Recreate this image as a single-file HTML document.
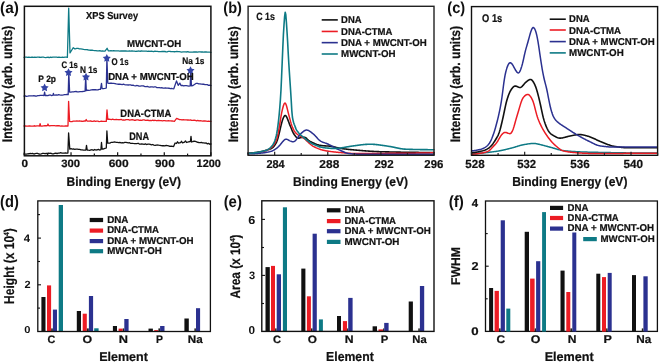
<!DOCTYPE html>
<html><head><meta charset="utf-8"><style>
html,body{margin:0;padding:0;background:#fff;}
svg{display:block;filter:blur(0.25px);}
text{text-rendering:geometricPrecision;}
</style></head><body>
<svg width="660" height="364" viewBox="0 0 660 364">
<rect width="660" height="364" fill="#fff"/>
<text x="0.03" y="12.98" font-size="15.77" font-family="Liberation Sans" font-weight="bold" fill="#111" textLength="18.84" lengthAdjust="spacingAndGlyphs">(a)</text>
<polyline points="24.00,57.30 25.21,57.21 26.41,57.13 27.62,57.38 28.82,57.09 30.03,57.32 31.23,57.23 32.44,57.08 33.64,57.30 34.85,57.07 36.06,57.27 37.26,57.08 38.47,57.10 39.67,57.26 40.88,57.46 42.08,57.11 43.29,57.16 44.49,57.36 45.70,57.52 46.91,57.34 48.11,57.25 49.32,57.54 50.52,57.07 51.73,57.48 52.93,57.19 54.14,57.12 55.34,57.11 56.55,57.20 57.76,57.46 58.96,57.14 60.17,57.34 61.37,57.37 62.58,57.24 63.78,57.32 64.99,57.08 66.19,57.08 67.40,57.30 68.70,8.10 70.00,52.90 71.50,50.50 73.30,47.70 75.00,49.00 76.70,48.30 78.08,48.37 79.47,48.82 80.85,48.91 82.23,49.07 83.62,49.43 85.00,49.60 86.38,49.71 87.77,49.77 89.15,50.15 90.53,50.23 91.92,50.14 93.30,50.40 94.60,50.53 95.90,50.59 97.20,50.85 98.50,50.87 99.80,50.74 101.10,51.17 102.40,50.83 103.70,51.07 105.00,51.20 107.10,48.30 108.30,50.80 109.64,50.93 110.98,50.63 112.32,50.79 113.66,50.57 115.00,50.80 116.21,50.90 117.41,50.97 118.62,50.89 119.83,51.06 121.03,50.79 122.24,51.00 123.45,50.97 124.66,50.98 125.86,50.93 127.07,51.14 128.28,51.21 129.48,50.99 130.69,51.11 131.90,50.82 133.10,51.16 134.31,51.15 135.52,51.34 136.72,51.27 137.93,51.02 139.14,51.09 140.34,51.25 141.55,50.94 142.76,51.18 143.97,51.05 145.17,51.04 146.38,51.03 147.59,51.40 148.79,51.10 150.00,51.30 151.22,51.19 152.44,51.29 153.66,51.55 154.88,51.17 156.10,51.37 157.32,51.44 158.54,51.63 159.76,51.62 160.98,51.66 162.20,51.39 163.42,51.48 164.64,51.47 165.86,51.75 167.08,51.81 168.30,51.43 169.52,51.46 170.74,51.51 171.96,51.53 173.18,51.67 174.40,51.74 175.62,51.60 176.84,51.49 178.06,51.72 179.28,51.71 180.50,51.83 181.72,52.05 182.94,51.94 184.16,51.87 185.38,51.94 186.60,51.99 187.82,51.70 189.04,52.14 190.26,52.10 191.48,52.17 192.70,52.15 193.92,51.97 195.14,51.99 196.36,51.86 197.58,52.15 198.80,51.88 200.02,51.90 201.24,51.99 202.46,51.99 203.68,52.10 204.90,51.98 206.12,51.97 207.34,52.07 208.56,52.06 209.78,52.21 211.00,52.30" fill="none" stroke="#0e7a85" stroke-width="1.3" stroke-linejoin="round" stroke-linecap="round"/>
<polyline points="24.00,96.20 25.25,95.87 26.50,96.34 27.75,96.14 29.00,95.81 30.25,95.83 31.50,95.85 32.75,95.81 34.00,95.62 35.25,96.02 36.50,96.06 37.75,95.70 39.00,95.67 40.25,95.38 41.50,95.35 42.75,95.45 44.00,95.50 44.60,92.20 45.20,95.50 46.50,95.31 47.80,95.60 49.10,95.15 50.40,95.01 51.70,95.52 53.00,95.20 53.40,93.30 53.80,95.20 55.00,95.17 56.20,94.89 57.40,95.08 58.60,94.72 59.80,94.97 61.00,95.19 62.20,95.07 63.40,94.92 64.60,94.61 65.80,94.62 67.00,94.45 68.20,94.60 68.80,72.00 69.60,92.00 70.89,92.10 72.18,91.89 73.47,91.97 74.77,91.63 76.06,91.50 77.35,91.79 78.64,91.82 79.93,91.68 81.22,91.58 82.52,91.52 83.81,91.41 85.10,91.20 85.70,76.80 86.30,90.50 87.59,90.24 88.88,90.31 90.17,90.11 91.46,89.82 92.75,89.72 94.05,89.77 95.34,89.66 96.63,89.82 97.92,89.87 99.21,89.47 100.50,89.40 101.50,83.30 102.10,88.50 103.50,88.60 104.90,88.46 106.30,88.00 106.90,58.40 107.80,83.10 109.00,83.48 110.20,83.23 111.40,83.24 112.60,83.35 113.80,83.44 115.00,83.54 116.20,83.90 117.40,84.17 118.60,84.24 119.80,84.12 121.00,84.33 122.20,84.52 123.40,84.20 124.60,84.65 125.80,84.90 127.00,84.93 128.20,85.01 129.40,84.95 130.60,84.88 131.80,85.35 133.00,85.18 134.20,85.56 135.40,85.77 136.60,85.52 137.80,85.63 139.00,86.06 140.20,86.03 141.40,85.80 142.60,85.88 143.80,86.00 145.00,86.56 146.20,86.60 147.40,86.31 148.60,86.82 149.80,87.02 151.00,86.93 152.20,86.84 153.40,87.07 154.60,86.92 155.80,86.95 157.00,87.63 158.20,87.54 159.40,87.57 160.60,87.92 161.80,87.72 163.00,88.09 164.20,88.17 165.40,87.90 166.60,88.03 167.80,88.16 169.00,88.23 170.20,88.54 171.40,88.45 172.60,88.65 173.80,88.80 176.50,80.90 178.20,85.30 179.80,83.10 181.00,85.50 182.31,85.34 183.63,85.86 184.94,85.58 186.26,85.70 187.57,85.84 188.89,86.09 190.20,85.90 190.80,70.00 191.40,85.80 193.00,85.50 196.30,83.30 197.53,83.44 198.75,83.92 199.98,83.85 201.20,84.05 202.43,84.23 203.65,84.11 204.88,84.55 206.10,84.58 207.32,84.65 208.55,85.31 209.78,85.12 211.00,85.50" fill="none" stroke="#2b3190" stroke-width="1.3" stroke-linejoin="round" stroke-linecap="round"/>
<polyline points="24.00,126.00 25.29,125.98 26.58,126.14 27.88,126.03 29.17,125.90 30.46,126.01 31.75,126.03 33.04,126.17 34.33,125.76 35.62,126.04 36.92,125.85 38.21,125.87 39.50,126.00 40.10,123.60 40.70,126.00 42.06,126.06 43.42,125.80 44.78,125.74 46.14,125.76 47.50,125.50 48.00,124.00 48.50,125.50 49.72,125.78 50.94,125.53 52.16,125.66 53.38,125.63 54.59,125.66 55.81,125.80 57.03,125.69 58.25,125.77 59.47,125.77 60.69,126.08 61.91,125.96 63.12,126.10 64.34,126.17 65.56,125.79 66.78,126.00 68.00,126.00 68.60,101.30 69.60,121.40 70.82,121.64 72.05,121.54 73.27,121.09 74.49,121.05 75.72,121.21 76.94,120.96 78.16,121.03 79.38,120.90 80.61,121.22 81.83,121.26 83.05,121.30 84.28,120.82 85.50,121.00 86.20,119.50 87.00,121.00 88.21,121.15 89.41,121.15 90.62,120.86 91.83,121.33 93.03,121.41 94.24,120.98 95.44,121.45 96.65,121.14 97.86,121.22 99.06,121.54 100.27,121.47 101.47,121.10 102.68,121.28 103.89,121.36 105.09,121.28 106.30,121.40 107.00,109.90 107.80,119.40 109.01,119.25 110.23,119.35 111.44,119.62 112.66,119.22 113.87,119.57 115.08,119.53 116.30,119.31 117.51,119.52 118.73,119.73 119.94,119.69 121.15,119.45 122.37,120.03 123.58,119.94 124.80,120.07 126.01,119.58 127.22,119.71 128.44,119.60 129.65,120.07 130.87,119.79 132.08,119.74 133.29,119.94 134.51,120.26 135.72,120.23 136.93,119.92 138.15,119.89 139.36,120.38 140.58,120.20 141.79,120.30 143.00,119.96 144.22,119.97 145.43,120.38 146.65,120.25 147.86,120.06 149.07,120.61 150.29,120.46 151.50,120.59 152.72,120.18 153.93,120.67 155.14,120.23 156.36,120.73 157.57,120.52 158.79,120.48 160.00,120.60 161.20,120.69 162.40,120.97 163.60,120.64 164.80,120.61 166.00,120.91 167.20,120.79 168.40,120.77 169.60,120.86 170.80,120.86 172.00,121.00 173.20,121.13 174.40,121.30 176.60,118.30 179.60,119.70 180.81,119.64 182.02,119.98 183.22,119.76 184.43,119.95 185.64,119.81 186.85,119.98 188.05,119.84 189.26,120.04 190.47,119.96 191.68,120.46 192.88,120.41 194.09,120.25 195.30,120.48 196.51,120.82 197.72,120.39 198.92,120.88 200.13,120.71 201.34,120.80 202.55,121.07 203.75,120.87 204.96,121.00 206.17,121.17 207.38,121.40 208.58,121.08 209.79,121.44 211.00,121.30" fill="none" stroke="#ec1c24" stroke-width="1.3" stroke-linejoin="round" stroke-linecap="round"/>
<polyline points="24.00,154.00 25.24,154.16 26.47,154.08 27.71,153.84 28.94,153.77 30.18,153.48 31.41,153.53 32.65,153.45 33.88,154.03 35.12,153.57 36.35,153.46 37.59,153.37 38.82,154.02 40.06,154.03 41.29,153.82 42.53,153.45 43.76,153.39 45.00,153.60 46.21,153.38 47.41,153.50 48.62,153.20 49.82,153.42 51.03,153.23 52.23,153.83 53.44,153.80 54.64,153.39 55.85,153.09 57.05,153.70 58.26,153.08 59.46,153.09 60.67,152.74 61.87,153.05 63.08,153.10 64.28,153.10 65.49,152.79 66.69,153.04 67.90,153.00 68.60,133.00 69.80,149.10 71.04,148.72 72.28,149.03 73.52,148.94 74.75,149.29 75.99,149.03 77.23,149.09 78.47,149.41 79.71,149.41 80.95,149.80 82.18,149.82 83.42,150.09 84.66,150.07 85.90,150.00 86.50,145.30 87.20,150.00 88.45,150.17 89.69,150.29 90.94,149.82 92.18,149.73 93.43,150.30 94.67,149.52 95.92,150.01 97.16,149.91 98.41,149.34 99.65,150.03 100.90,149.70 101.50,142.50 102.10,149.00 103.50,149.02 104.90,148.45 106.30,148.00 106.90,131.00 107.70,143.20 108.92,143.21 110.13,143.08 111.35,142.28 112.57,142.42 113.78,142.20 115.00,142.00 116.22,142.39 117.43,142.45 118.65,142.56 119.86,142.43 121.08,142.80 122.30,142.70 123.51,142.80 124.73,142.47 125.95,142.38 127.16,142.56 128.38,142.86 129.59,142.71 130.81,143.46 132.03,143.30 133.24,143.45 134.46,143.54 135.68,143.68 136.89,143.60 138.11,143.25 139.32,144.05 140.54,144.10 141.76,143.96 142.97,144.08 144.19,144.28 145.41,143.84 146.62,144.53 147.84,144.19 149.05,144.11 150.27,144.38 151.49,144.88 152.70,144.50 153.92,145.07 155.14,145.37 156.35,145.03 157.57,145.02 158.78,145.19 160.00,145.30 161.24,145.57 162.47,145.76 163.71,145.73 164.95,145.86 166.18,145.47 167.42,145.64 168.65,145.84 169.89,146.39 171.13,146.11 172.36,146.45 173.60,146.50 175.10,143.00 176.50,143.50 177.50,141.80 178.50,143.20 180.50,142.60 181.50,141.30 182.50,142.80 184.50,142.20 185.50,140.90 186.50,142.50 188.50,141.90 190.40,141.50 191.00,136.40 191.60,142.00 193.00,141.50 194.20,141.23 195.40,141.44 196.60,141.79 197.80,142.32 199.00,142.51 200.20,142.66 201.40,142.48 202.60,142.85 203.80,142.97 205.00,143.14 206.20,142.99 207.40,143.85 208.60,143.40 209.80,144.26 211.00,144.00" fill="none" stroke="#111111" stroke-width="1.3" stroke-linejoin="round" stroke-linecap="round"/>
<polygon points="44.60,83.45 45.90,85.91 48.64,86.39 46.70,88.38 47.10,91.14 44.60,89.91 42.10,91.14 42.50,88.38 40.56,86.39 43.30,85.91" fill="#3444a6"/>
<polygon points="68.50,68.35 69.80,70.81 72.54,71.29 70.60,73.28 71.00,76.04 68.50,74.81 66.00,76.04 66.40,73.28 64.46,71.29 67.20,70.81" fill="#3444a6"/>
<polygon points="86.00,72.75 87.30,75.21 90.04,75.69 88.10,77.68 88.50,80.44 86.00,79.21 83.50,80.44 83.90,77.68 81.96,75.69 84.70,75.21" fill="#3444a6"/>
<polygon points="106.80,53.95 108.10,56.41 110.84,56.89 108.90,58.88 109.30,61.64 106.80,60.41 104.30,61.64 104.70,58.88 102.76,56.89 105.50,56.41" fill="#3444a6"/>
<polygon points="190.50,66.25 191.80,68.71 194.54,69.19 192.60,71.18 193.00,73.94 190.50,72.71 188.00,73.94 188.40,71.18 186.46,69.19 189.20,68.71" fill="#3444a6"/>
<rect x="24.4" y="6.3" width="186.5" height="149.5" fill="none" stroke="#111" stroke-width="1.5"/>
<line x1="24.4" y1="155.8" x2="24.4" y2="152.3" stroke="#111" stroke-width="1.2"/>
<line x1="47.7125" y1="155.8" x2="47.7125" y2="153.60000000000002" stroke="#111" stroke-width="1.2"/>
<line x1="71.025" y1="155.8" x2="71.025" y2="152.3" stroke="#111" stroke-width="1.2"/>
<line x1="94.3375" y1="155.8" x2="94.3375" y2="153.60000000000002" stroke="#111" stroke-width="1.2"/>
<line x1="117.65" y1="155.8" x2="117.65" y2="152.3" stroke="#111" stroke-width="1.2"/>
<line x1="140.9625" y1="155.8" x2="140.9625" y2="153.60000000000002" stroke="#111" stroke-width="1.2"/>
<line x1="164.275" y1="155.8" x2="164.275" y2="152.3" stroke="#111" stroke-width="1.2"/>
<line x1="187.5875" y1="155.8" x2="187.5875" y2="153.60000000000002" stroke="#111" stroke-width="1.2"/>
<line x1="210.9" y1="155.8" x2="210.9" y2="152.3" stroke="#111" stroke-width="1.2"/>
<text x="21.63" y="167.25" font-size="10.74" font-family="Liberation Sans" font-weight="bold" stroke="#111" stroke-width="0.22" fill="#111" textLength="6.55" lengthAdjust="spacingAndGlyphs">0</text>
<text x="61.34" y="167.25" font-size="10.74" font-family="Liberation Sans" font-weight="bold" stroke="#111" stroke-width="0.22" fill="#111" textLength="18.82" lengthAdjust="spacingAndGlyphs">300</text>
<text x="108.66" y="167.25" font-size="10.74" font-family="Liberation Sans" font-weight="bold" stroke="#111" stroke-width="0.22" fill="#111" textLength="20.03" lengthAdjust="spacingAndGlyphs">600</text>
<text x="155.09" y="167.25" font-size="10.74" font-family="Liberation Sans" font-weight="bold" stroke="#111" stroke-width="0.22" fill="#111" textLength="19.59" lengthAdjust="spacingAndGlyphs">900</text>
<text x="196.61" y="167.25" font-size="10.74" font-family="Liberation Sans" font-weight="bold" stroke="#111" stroke-width="0.22" fill="#111" textLength="24.34" lengthAdjust="spacingAndGlyphs">1200</text>
<text x="66.50" y="186.15" font-size="12.65" font-family="Liberation Sans" font-weight="bold" stroke="#111" stroke-width="0.22" fill="#111" textLength="114.60" lengthAdjust="spacingAndGlyphs">Binding Energy (eV)</text>
<text x="-0.81" y="0" font-size="13.95" font-family="Liberation Sans" font-weight="bold" stroke="#111" stroke-width="0.22" fill="#111" textLength="116.42" lengthAdjust="spacingAndGlyphs" transform="translate(12.35,141.40) rotate(-90)">Intensity (arb. units)</text>
<text x="86.12" y="19.15" font-size="10.17" font-family="Liberation Sans" font-weight="bold" stroke="#111" stroke-width="0.22" fill="#111" textLength="51.93" lengthAdjust="spacingAndGlyphs">XPS Survey</text>
<text x="127.06" y="46.75" font-size="9.88" font-family="Liberation Sans" font-weight="bold" stroke="#111" stroke-width="0.22" fill="#111" textLength="54.18" lengthAdjust="spacingAndGlyphs">MWCNT-OH</text>
<text x="38.34" y="81.75" font-size="9.30" font-family="Liberation Sans" font-weight="bold" stroke="#111" stroke-width="0.22" fill="#111" textLength="17.70" lengthAdjust="spacingAndGlyphs">P 2p</text>
<text x="61.48" y="67.65" font-size="9.45" font-family="Liberation Sans" font-weight="bold" stroke="#111" stroke-width="0.22" fill="#111" textLength="16.44" lengthAdjust="spacingAndGlyphs">C 1s</text>
<text x="79.95" y="72.95" font-size="9.59" font-family="Liberation Sans" font-weight="bold" stroke="#111" stroke-width="0.22" fill="#111" textLength="17.49" lengthAdjust="spacingAndGlyphs">N 1s</text>
<text x="111.48" y="64.85" font-size="9.74" font-family="Liberation Sans" font-weight="bold" stroke="#111" stroke-width="0.22" fill="#111" textLength="17.04" lengthAdjust="spacingAndGlyphs">O 1s</text>
<text x="182.25" y="64.45" font-size="9.30" font-family="Liberation Sans" font-weight="bold" stroke="#111" stroke-width="0.22" fill="#111" textLength="22.09" lengthAdjust="spacingAndGlyphs">Na 1s</text>
<text x="108.16" y="80.25" font-size="10.03" font-family="Liberation Sans" font-weight="bold" stroke="#111" stroke-width="0.22" fill="#111" textLength="85.58" lengthAdjust="spacingAndGlyphs">DNA + MWCNT-OH</text>
<text x="120.37" y="116.95" font-size="10.61" font-family="Liberation Sans" font-weight="bold" stroke="#111" stroke-width="0.22" fill="#111" textLength="50.88" lengthAdjust="spacingAndGlyphs">DNA-CTMA</text>
<text x="129.19" y="139.95" font-size="10.76" font-family="Liberation Sans" font-weight="bold" stroke="#111" stroke-width="0.22" fill="#111" textLength="19.85" lengthAdjust="spacingAndGlyphs">DNA</text>
<text x="223.27" y="12.98" font-size="15.77" font-family="Liberation Sans" font-weight="bold" fill="#111" textLength="18.66" lengthAdjust="spacingAndGlyphs">(b)</text>
<polyline points="248.00,153.00 248.60,152.99 249.20,152.98 249.80,152.97 250.40,152.95 251.00,152.92 251.60,152.89 252.20,152.85 252.80,152.81 253.40,152.76 254.00,152.71 254.60,152.64 255.20,152.58 255.80,152.50 256.40,152.43 257.00,152.34 257.60,152.25 258.20,152.15 258.80,152.05 259.40,151.94 260.00,151.83 260.60,151.71 261.20,151.58 261.80,151.45 262.40,151.31 263.00,151.17 263.60,151.02 264.20,150.86 264.80,150.70 265.40,150.53 266.00,150.36 266.60,150.18 267.20,149.99 267.80,149.80 268.40,149.60 269.00,149.40 269.60,149.19 270.20,148.97 270.80,148.73 271.40,148.45 272.00,148.10 272.60,147.65 273.20,147.11 273.80,146.46 274.40,145.72 275.00,144.88 275.60,143.93 276.20,142.85 276.80,141.55 277.40,139.94 278.00,138.01 278.60,135.81 279.20,133.42 279.80,130.86 280.40,128.18 281.00,125.56 281.60,123.18 282.20,121.10 282.80,119.31 283.40,117.76 284.00,116.55 284.60,115.78 285.20,115.53 285.80,115.82 286.40,116.59 287.00,117.73 287.60,119.13 288.20,120.69 288.80,122.29 289.40,123.86 290.00,125.36 290.60,126.82 291.20,128.28 291.80,129.73 292.40,131.12 293.00,132.40 293.60,133.52 294.20,134.48 294.80,135.34 295.40,136.11 296.00,136.80 296.60,137.37 297.20,137.81 297.80,138.07 298.40,138.16 299.00,138.11 299.60,137.97 300.20,137.81 300.80,137.65 301.40,137.52 302.00,137.43 302.60,137.36 303.20,137.30 303.80,137.26 304.40,137.27 305.00,137.36 305.60,137.62 306.20,138.08 306.80,138.68 307.40,139.31 308.00,139.88 308.60,140.37 309.20,140.78 309.80,141.15 310.40,141.49 311.00,141.81 311.60,142.12 312.20,142.42 312.80,142.71 313.40,143.00 314.00,143.29 314.60,143.57 315.20,143.85 315.80,144.11 316.40,144.35 317.00,144.57 317.60,144.75 318.20,144.90 318.80,145.04 319.40,145.16 320.00,145.27 320.60,145.38 321.20,145.47 321.80,145.55 322.40,145.63 323.00,145.69 323.60,145.75 324.20,145.80 324.80,145.85 325.40,145.89 326.00,145.93 326.60,145.97 327.20,146.00 327.80,146.04 328.40,146.07 329.00,146.11 329.60,146.16 330.20,146.21 330.80,146.27 331.40,146.34 332.00,146.43 332.60,146.53 333.20,146.65 333.80,146.79 334.40,146.94 335.00,147.09 335.60,147.25 336.20,147.41 336.80,147.57 337.40,147.73 338.00,147.88 338.60,148.02 339.20,148.14 339.80,148.26 340.40,148.36 341.00,148.45 341.60,148.54 342.20,148.62 342.80,148.71 343.40,148.79 344.00,148.86 344.60,148.94 345.20,149.01 345.80,149.08 346.40,149.15 347.00,149.22 347.60,149.29 348.20,149.35 348.80,149.42 349.40,149.48 350.00,149.54 350.60,149.60 351.20,149.66 351.80,149.71 352.40,149.77 353.00,149.82 353.60,149.88 354.20,149.93 354.80,149.98 355.40,150.03 356.00,150.09 356.60,150.14 357.20,150.19 357.80,150.24 358.40,150.30 359.00,150.35 359.60,150.40 360.20,150.45 360.80,150.50 361.40,150.55 362.00,150.60 362.60,150.65 363.20,150.70 363.80,150.75 364.40,150.80 365.00,150.85 365.60,150.89 366.20,150.94 366.80,150.99 367.40,151.03 368.00,151.07 368.60,151.12 369.20,151.16 369.80,151.20 370.40,151.24 371.00,151.28 371.60,151.32 372.20,151.35 372.80,151.39 373.40,151.42 374.00,151.46 374.60,151.49 375.20,151.52 375.80,151.55 376.40,151.57 377.00,151.60 377.60,151.62 378.20,151.64 378.80,151.66 379.40,151.68 380.00,151.70 380.60,151.72 381.20,151.73 381.80,151.75 382.40,151.76 383.00,151.78 383.60,151.79 384.20,151.81 384.80,151.82 385.40,151.84 386.00,151.85 386.60,151.87 387.20,151.88 387.80,151.90 388.40,151.91 389.00,151.92 389.60,151.94 390.20,151.95 390.80,151.97 391.40,151.98 392.00,151.99 392.60,152.01 393.20,152.02 393.80,152.03 394.40,152.04 395.00,152.06 395.60,152.07 396.20,152.08 396.80,152.09 397.40,152.11 398.00,152.12 398.60,152.13 399.20,152.14 399.80,152.15 400.40,152.16 401.00,152.18 401.60,152.19 402.20,152.20 402.80,152.21 403.40,152.22 404.00,152.23 404.60,152.24 405.20,152.25 405.80,152.26 406.40,152.27 407.00,152.28 407.60,152.29 408.20,152.30 408.80,152.31 409.40,152.31 410.00,152.32 410.60,152.33 411.20,152.34 411.80,152.35 412.40,152.36 413.00,152.36 413.60,152.37 414.20,152.38 414.80,152.38 415.40,152.39 416.00,152.40 416.60,152.40 417.20,152.41 417.80,152.42 418.40,152.42 419.00,152.43 419.60,152.43 420.20,152.44 420.80,152.44 421.40,152.45 422.00,152.45 422.60,152.46 423.20,152.46 423.80,152.47 424.40,152.47 425.00,152.47 425.60,152.48 426.20,152.48 426.80,152.48 427.40,152.49 428.00,152.49 428.60,152.49 429.20,152.49 429.80,152.49 430.40,152.50 431.00,152.50 431.60,152.50 432.20,152.50 432.80,152.50 433.40,152.50 434.00,152.50" fill="none" stroke="#111111" stroke-width="1.6" stroke-linejoin="round" stroke-linecap="round"/>
<polyline points="248.00,153.30 248.60,153.29 249.20,153.28 249.80,153.27 250.40,153.24 251.00,153.22 251.60,153.18 252.20,153.14 252.80,153.10 253.40,153.05 254.00,152.99 254.60,152.93 255.20,152.86 255.80,152.79 256.40,152.72 257.00,152.64 257.60,152.56 258.20,152.47 258.80,152.38 259.40,152.29 260.00,152.19 260.60,152.09 261.20,151.99 261.80,151.89 262.40,151.77 263.00,151.65 263.60,151.50 264.20,151.33 264.80,151.14 265.40,150.92 266.00,150.69 266.60,150.43 267.20,150.14 267.80,149.84 268.40,149.51 269.00,149.16 269.60,148.79 270.20,148.39 270.80,147.97 271.40,147.51 272.00,146.99 272.60,146.38 273.20,145.67 273.80,144.86 274.40,143.94 275.00,142.91 275.60,141.74 276.20,140.41 276.80,138.75 277.40,136.59 278.00,133.90 278.60,130.82 279.20,127.50 279.80,123.90 280.40,120.08 281.00,116.39 281.60,113.17 282.20,110.42 282.80,107.96 283.40,105.81 284.00,104.15 284.60,103.18 285.20,103.08 285.80,103.91 286.40,105.54 287.00,107.72 287.60,110.16 288.20,112.60 288.80,114.92 289.40,117.18 290.00,119.43 290.60,121.63 291.20,123.65 291.80,125.42 292.40,126.98 293.00,128.40 293.60,129.69 294.20,130.82 294.80,131.77 295.40,132.54 296.00,133.17 296.60,133.72 297.20,134.20 297.80,134.64 298.40,135.04 299.00,135.41 299.60,135.75 300.20,136.08 300.80,136.41 301.40,136.74 302.00,137.09 302.60,137.46 303.20,137.86 303.80,138.29 304.40,138.77 305.00,139.27 305.60,139.80 306.20,140.34 306.80,140.91 307.40,141.48 308.00,142.05 308.60,142.62 309.20,143.18 309.80,143.72 310.40,144.25 311.00,144.75 311.60,145.22 312.20,145.65 312.80,146.04 313.40,146.39 314.00,146.71 314.60,147.01 315.20,147.30 315.80,147.59 316.40,147.87 317.00,148.13 317.60,148.39 318.20,148.64 318.80,148.87 319.40,149.10 320.00,149.31 320.60,149.52 321.20,149.71 321.80,149.89 322.40,150.05 323.00,150.21 323.60,150.35 324.20,150.48 324.80,150.59 325.40,150.71 326.00,150.81 326.60,150.92 327.20,151.02 327.80,151.11 328.40,151.21 329.00,151.30 329.60,151.38 330.20,151.46 330.80,151.54 331.40,151.62 332.00,151.69 332.60,151.77 333.20,151.84 333.80,151.90 334.40,151.97 335.00,152.03 335.60,152.09 336.20,152.15 336.80,152.21 337.40,152.27 338.00,152.32 338.60,152.38 339.20,152.43 339.80,152.48 340.40,152.54 341.00,152.59 341.60,152.64 342.20,152.70 342.80,152.75 343.40,152.81 344.00,152.86 344.60,152.92 345.20,152.97 345.80,153.02 346.40,153.07 347.00,153.12 347.60,153.17 348.20,153.22 348.80,153.26 349.40,153.30 350.00,153.34 350.60,153.37 351.20,153.40 351.80,153.43 352.40,153.45 353.00,153.47 353.60,153.48 354.20,153.49 354.80,153.50 355.40,153.50 356.00,153.50 356.60,153.50 357.20,153.50 357.80,153.50 358.40,153.50 359.00,153.50 359.60,153.50 360.20,153.50 360.80,153.50 361.40,153.49 362.00,153.49 362.60,153.49 363.20,153.49 363.80,153.49 364.40,153.49 365.00,153.49 365.60,153.49 366.20,153.48 366.80,153.48 367.40,153.48 368.00,153.48 368.60,153.48 369.20,153.47 369.80,153.47 370.40,153.47 371.00,153.47 371.60,153.47 372.20,153.46 372.80,153.46 373.40,153.46 374.00,153.46 374.60,153.45 375.20,153.45 375.80,153.45 376.40,153.44 377.00,153.44 377.60,153.44 378.20,153.44 378.80,153.43 379.40,153.43 380.00,153.43 380.60,153.42 381.20,153.42 381.80,153.42 382.40,153.41 383.00,153.41 383.60,153.41 384.20,153.40 384.80,153.40 385.40,153.40 386.00,153.39 386.60,153.39 387.20,153.39 387.80,153.38 388.40,153.38 389.00,153.37 389.60,153.37 390.20,153.37 390.80,153.36 391.40,153.36 392.00,153.35 392.60,153.35 393.20,153.35 393.80,153.34 394.40,153.34 395.00,153.33 395.60,153.33 396.20,153.33 396.80,153.32 397.40,153.32 398.00,153.31 398.60,153.31 399.20,153.31 399.80,153.30 400.40,153.30 401.00,153.29 401.60,153.29 402.20,153.28 402.80,153.28 403.40,153.27 404.00,153.27 404.60,153.26 405.20,153.26 405.80,153.25 406.40,153.24 407.00,153.24 407.60,153.23 408.20,153.22 408.80,153.22 409.40,153.21 410.00,153.20 410.60,153.19 411.20,153.18 411.80,153.18 412.40,153.17 413.00,153.16 413.60,153.15 414.20,153.14 414.80,153.13 415.40,153.13 416.00,153.12 416.60,153.11 417.20,153.10 417.80,153.09 418.40,153.08 419.00,153.07 419.60,153.06 420.20,153.05 420.80,153.04 421.40,153.03 422.00,153.02 422.60,153.01 423.20,153.00 423.80,152.99 424.40,152.98 425.00,152.97 425.60,152.96 426.20,152.95 426.80,152.93 427.40,152.92 428.00,152.91 428.60,152.90 429.20,152.89 429.80,152.88 430.40,152.87 431.00,152.86 431.60,152.85 432.20,152.83 432.80,152.82 433.40,152.81 434.00,152.80" fill="none" stroke="#ec1c24" stroke-width="1.5" stroke-linejoin="round" stroke-linecap="round"/>
<polyline points="248.00,153.90 248.60,153.89 249.20,153.88 249.80,153.87 250.40,153.86 251.00,153.84 251.60,153.81 252.20,153.79 252.80,153.76 253.40,153.72 254.00,153.69 254.60,153.65 255.20,153.60 255.80,153.56 256.40,153.51 257.00,153.46 257.60,153.41 258.20,153.36 258.80,153.31 259.40,153.25 260.00,153.19 260.60,153.14 261.20,153.08 261.80,153.02 262.40,152.95 263.00,152.89 263.60,152.81 264.20,152.74 264.80,152.65 265.40,152.56 266.00,152.47 266.60,152.36 267.20,152.25 267.80,152.13 268.40,152.00 269.00,151.86 269.60,151.72 270.20,151.56 270.80,151.39 271.40,151.20 272.00,150.98 272.60,150.73 273.20,150.44 273.80,150.12 274.40,149.77 275.00,149.39 275.60,148.98 276.20,148.54 276.80,148.08 277.40,147.60 278.00,147.08 278.60,146.50 279.20,145.87 279.80,145.18 280.40,144.45 281.00,143.71 281.60,142.98 282.20,142.26 282.80,141.56 283.40,140.88 284.00,140.26 284.60,139.75 285.20,139.38 285.80,139.19 286.40,139.18 287.00,139.33 287.60,139.58 288.20,139.90 288.80,140.23 289.40,140.55 290.00,140.85 290.60,141.11 291.20,141.33 291.80,141.53 292.40,141.66 293.00,141.72 293.60,141.66 294.20,141.45 294.80,141.08 295.40,140.57 296.00,139.92 296.60,139.17 297.20,138.36 297.80,137.50 298.40,136.64 299.00,135.80 299.60,135.02 300.20,134.31 300.80,133.68 301.40,133.10 302.00,132.57 302.60,132.06 303.20,131.58 303.80,131.14 304.40,130.75 305.00,130.43 305.60,130.20 306.20,130.08 306.80,130.06 307.40,130.14 308.00,130.31 308.60,130.57 309.20,130.88 309.80,131.26 310.40,131.67 311.00,132.12 311.60,132.58 312.20,133.06 312.80,133.54 313.40,134.04 314.00,134.58 314.60,135.15 315.20,135.77 315.80,136.43 316.40,137.11 317.00,137.80 317.60,138.47 318.20,139.11 318.80,139.70 319.40,140.22 320.00,140.67 320.60,141.06 321.20,141.40 321.80,141.70 322.40,141.97 323.00,142.22 323.60,142.45 324.20,142.67 324.80,142.89 325.40,143.10 326.00,143.31 326.60,143.54 327.20,143.77 327.80,144.02 328.40,144.28 329.00,144.56 329.60,144.86 330.20,145.18 330.80,145.50 331.40,145.84 332.00,146.17 332.60,146.52 333.20,146.86 333.80,147.19 334.40,147.52 335.00,147.84 335.60,148.15 336.20,148.45 336.80,148.74 337.40,149.02 338.00,149.30 338.60,149.59 339.20,149.87 339.80,150.16 340.40,150.44 341.00,150.73 341.60,151.01 342.20,151.28 342.80,151.55 343.40,151.81 344.00,152.06 344.60,152.30 345.20,152.53 345.80,152.74 346.40,152.93 347.00,153.11 347.60,153.26 348.20,153.40 348.80,153.51 349.40,153.61 350.00,153.68 350.60,153.74 351.20,153.79 351.80,153.84 352.40,153.89 353.00,153.93 353.60,153.97 354.20,154.01 354.80,154.04 355.40,154.07 356.00,154.10 356.60,154.13 357.20,154.15 357.80,154.16 358.40,154.18 359.00,154.19 359.60,154.19 360.20,154.20 360.80,154.20 361.40,154.20 362.00,154.20 362.60,154.20 363.20,154.20 363.80,154.20 364.40,154.20 365.00,154.20 365.60,154.20 366.20,154.20 366.80,154.20 367.40,154.20 368.00,154.20 368.60,154.20 369.20,154.20 369.80,154.20 370.40,154.20 371.00,154.20 371.60,154.20 372.20,154.20 372.80,154.20 373.40,154.20 374.00,154.20 374.60,154.20 375.20,154.20 375.80,154.20 376.40,154.20 377.00,154.20 377.60,154.20 378.20,154.20 378.80,154.20 379.40,154.20 380.00,154.20 380.60,154.20 381.20,154.20 381.80,154.20 382.40,154.20 383.00,154.20 383.60,154.20 384.20,154.20 384.80,154.20 385.40,154.20 386.00,154.20 386.60,154.20 387.20,154.20 387.80,154.20 388.40,154.20 389.00,154.20 389.60,154.20 390.20,154.20 390.80,154.20 391.40,154.20 392.00,154.20 392.60,154.20 393.20,154.20 393.80,154.20 394.40,154.20 395.00,154.20 395.60,154.20 396.20,154.20 396.80,154.20 397.40,154.20 398.00,154.20 398.60,154.20 399.20,154.20 399.80,154.20 400.40,154.20 401.00,154.20 401.60,154.20 402.20,154.20 402.80,154.20 403.40,154.20 404.00,154.20 404.60,154.20 405.20,154.20 405.80,154.20 406.40,154.20 407.00,154.20 407.60,154.20 408.20,154.20 408.80,154.20 409.40,154.20 410.00,154.20 410.60,154.20 411.20,154.20 411.80,154.20 412.40,154.20 413.00,154.20 413.60,154.20 414.20,154.20 414.80,154.20 415.40,154.20 416.00,154.20 416.60,154.20 417.20,154.20 417.80,154.20 418.40,154.20 419.00,154.20 419.60,154.20 420.20,154.20 420.80,154.20 421.40,154.20 422.00,154.20 422.60,154.20 423.20,154.20 423.80,154.20 424.40,154.20 425.00,154.20 425.60,154.20 426.20,154.20 426.80,154.20 427.40,154.20 428.00,154.20 428.60,154.20 429.20,154.20 429.80,154.20 430.40,154.20 431.00,154.20 431.60,154.20 432.20,154.20 432.80,154.20 433.40,154.20 434.00,154.20" fill="none" stroke="#2b3190" stroke-width="1.5" stroke-linejoin="round" stroke-linecap="round"/>
<polyline points="248.00,153.20 248.60,153.20 249.20,153.19 249.80,153.17 250.40,153.14 251.00,153.11 251.60,153.07 252.20,153.03 252.80,152.98 253.40,152.92 254.00,152.86 254.60,152.79 255.20,152.71 255.80,152.63 256.40,152.54 257.00,152.44 257.60,152.34 258.20,152.24 258.80,152.12 259.40,152.01 260.00,151.88 260.60,151.76 261.20,151.62 261.80,151.48 262.40,151.34 263.00,151.19 263.60,151.04 264.20,150.88 264.80,150.71 265.40,150.54 266.00,150.37 266.60,150.16 267.20,149.90 267.80,149.58 268.40,149.21 269.00,148.79 269.60,148.31 270.20,147.78 270.80,147.20 271.40,146.56 272.00,145.87 272.60,145.13 273.20,144.31 273.80,143.24 274.40,141.85 275.00,140.17 275.60,138.21 276.20,136.00 276.80,133.16 277.40,129.44 278.00,125.03 278.60,120.09 279.20,114.32 279.80,107.49 280.40,99.48 281.00,89.72 281.60,76.48 282.20,62.25 282.80,47.96 283.40,34.67 284.00,25.01 284.60,16.59 285.20,12.30 285.80,14.70 286.40,22.31 287.00,31.55 287.60,41.31 288.20,52.80 288.80,63.27 289.40,72.63 290.00,81.59 290.60,90.47 291.20,100.04 291.80,110.62 292.40,117.01 293.00,120.12 293.60,122.45 294.20,124.27 294.80,125.82 295.40,127.36 296.00,128.85 296.60,130.10 297.20,131.04 297.80,131.86 298.40,132.61 299.00,133.30 299.60,133.93 300.20,134.52 300.80,135.07 301.40,135.59 302.00,136.10 302.60,136.59 303.20,137.08 303.80,137.58 304.40,138.09 305.00,138.58 305.60,139.08 306.20,139.56 306.80,140.04 307.40,140.51 308.00,140.97 308.60,141.41 309.20,141.84 309.80,142.26 310.40,142.65 311.00,143.03 311.60,143.38 312.20,143.71 312.80,144.02 313.40,144.30 314.00,144.57 314.60,144.83 315.20,145.09 315.80,145.34 316.40,145.58 317.00,145.82 317.60,146.06 318.20,146.28 318.80,146.49 319.40,146.69" fill="none" stroke="#0e7a85" stroke-width="1.6" stroke-linejoin="round" stroke-linecap="round"/>
<polyline points="319.40,146.63 320.00,146.81 320.60,146.98 321.20,147.14 321.80,147.29 322.40,147.42 323.00,147.53 323.60,147.64 324.20,147.73 324.80,147.81 325.40,147.89 326.00,147.95 326.60,148.01 327.20,148.07 327.80,148.12 328.40,148.17 329.00,148.22 329.60,148.26 330.20,148.30 330.80,148.34 331.40,148.37 332.00,148.40 332.60,148.42 333.20,148.44 333.80,148.45 334.40,148.46 335.00,148.45 335.60,148.44 336.20,148.42 336.80,148.40 337.40,148.36 338.00,148.31 338.60,148.25 339.20,148.18 339.80,148.11 340.40,148.02 341.00,147.94 341.60,147.84 342.20,147.74 342.80,147.64 343.40,147.53 344.00,147.42 344.60,147.31 345.20,147.20 345.80,147.10 346.40,146.99 347.00,146.88 347.60,146.78 348.20,146.69 348.80,146.59 349.40,146.50 350.00,146.41 350.60,146.33 351.20,146.24 351.80,146.16 352.40,146.07 353.00,145.99 353.60,145.90 354.20,145.82 354.80,145.73 355.40,145.64 356.00,145.56 356.60,145.47 357.20,145.39 357.80,145.30 358.40,145.22 359.00,145.13 359.60,145.05 360.20,144.97 360.80,144.90 361.40,144.82 362.00,144.75 362.60,144.68 363.20,144.62 363.80,144.56 364.40,144.50 365.00,144.45 365.60,144.41 366.20,144.36 366.80,144.33 367.40,144.30 368.00,144.27 368.60,144.26 369.20,144.24 369.80,144.24 370.40,144.24 371.00,144.25 371.60,144.26 372.20,144.28 372.80,144.31 373.40,144.34 374.00,144.38 374.60,144.42 375.20,144.47 375.80,144.52 376.40,144.58 377.00,144.64 377.60,144.71 378.20,144.78 378.80,144.85 379.40,144.93 380.00,145.01 380.60,145.09 381.20,145.18 381.80,145.26 382.40,145.35 383.00,145.44 383.60,145.53 384.20,145.62 384.80,145.71 385.40,145.80 386.00,145.90 386.60,145.99 387.20,146.08 387.80,146.17 388.40,146.27 389.00,146.36 389.60,146.45 390.20,146.55 390.80,146.65 391.40,146.76 392.00,146.87 392.60,146.99 393.20,147.10 393.80,147.23 394.40,147.36 395.00,147.49 395.60,147.62 396.20,147.75 396.80,147.88 397.40,148.02 398.00,148.14 398.60,148.27 399.20,148.39 399.80,148.51 400.40,148.61 401.00,148.72 401.60,148.81 402.20,148.89 402.80,148.97 403.40,149.03 404.00,149.09 404.60,149.13 405.20,149.17 405.80,149.21 406.40,149.23 407.00,149.26 407.60,149.28 408.20,149.30 408.80,149.32 409.40,149.34 410.00,149.36 410.60,149.37 411.20,149.39 411.80,149.40 412.40,149.42 413.00,149.44 413.60,149.45 414.20,149.46 414.80,149.48 415.40,149.49 416.00,149.51 416.60,149.52 417.20,149.53 417.80,149.54 418.40,149.55 419.00,149.56 419.60,149.57 420.20,149.58 420.80,149.59 421.40,149.60 422.00,149.61 422.60,149.62 423.20,149.63 423.80,149.64 424.40,149.64 425.00,149.65 425.60,149.66 426.20,149.66 426.80,149.67 427.40,149.67 428.00,149.68 428.60,149.68 429.20,149.68 429.80,149.69 430.40,149.69 431.00,149.69 431.60,149.69 432.20,149.70 432.80,149.70 433.40,149.70 434.00,149.70" fill="none" stroke="#0e7a85" stroke-width="1.6" stroke-linejoin="round" stroke-linecap="round"/>
<rect x="248.1" y="6.3" width="185.9" height="149.0" fill="none" stroke="#222" stroke-width="1.4"/>
<line x1="248.1" y1="155.3" x2="248.1" y2="153.10000000000002" stroke="#222" stroke-width="1.2"/>
<line x1="274.65714285714284" y1="155.3" x2="274.65714285714284" y2="151.8" stroke="#222" stroke-width="1.2"/>
<line x1="301.2142857142857" y1="155.3" x2="301.2142857142857" y2="153.10000000000002" stroke="#222" stroke-width="1.2"/>
<line x1="327.7714285714286" y1="155.3" x2="327.7714285714286" y2="151.8" stroke="#222" stroke-width="1.2"/>
<line x1="354.3285714285714" y1="155.3" x2="354.3285714285714" y2="153.10000000000002" stroke="#222" stroke-width="1.2"/>
<line x1="380.88571428571424" y1="155.3" x2="380.88571428571424" y2="151.8" stroke="#222" stroke-width="1.2"/>
<line x1="407.4428571428572" y1="155.3" x2="407.4428571428572" y2="153.10000000000002" stroke="#222" stroke-width="1.2"/>
<line x1="434.0" y1="155.3" x2="434.0" y2="151.8" stroke="#222" stroke-width="1.2"/>
<text x="266.42" y="167.55" font-size="11.46" font-family="Liberation Sans" font-weight="bold" stroke="#111" stroke-width="0.22" fill="#111" textLength="18.24" lengthAdjust="spacingAndGlyphs">284</text>
<text x="319.39" y="167.55" font-size="11.46" font-family="Liberation Sans" font-weight="bold" stroke="#111" stroke-width="0.22" fill="#111" textLength="19.88" lengthAdjust="spacingAndGlyphs">288</text>
<text x="374.40" y="167.55" font-size="11.46" font-family="Liberation Sans" font-weight="bold" stroke="#111" stroke-width="0.22" fill="#111" textLength="19.26" lengthAdjust="spacingAndGlyphs">292</text>
<text x="424.31" y="167.55" font-size="11.46" font-family="Liberation Sans" font-weight="bold" stroke="#111" stroke-width="0.22" fill="#111" textLength="19.01" lengthAdjust="spacingAndGlyphs">296</text>
<text x="293.00" y="186.35" font-size="12.79" font-family="Liberation Sans" font-weight="bold" stroke="#111" stroke-width="0.22" fill="#111" textLength="114.90" lengthAdjust="spacingAndGlyphs">Binding Energy (eV)</text>
<text x="-0.81" y="0" font-size="13.81" font-family="Liberation Sans" font-weight="bold" stroke="#111" stroke-width="0.22" fill="#111" textLength="116.02" lengthAdjust="spacingAndGlyphs" transform="translate(237.55,141.50) rotate(-90)">Intensity (arb. units)</text>
<text x="256.24" y="20.15" font-size="10.47" font-family="Liberation Sans" font-weight="bold" stroke="#111" stroke-width="0.22" fill="#111" textLength="18.62" lengthAdjust="spacingAndGlyphs">C 1s</text>
<line x1="321.7" y1="19.9" x2="337.8" y2="19.9" stroke="#111111" stroke-width="1.6"/>
<text x="341.07" y="23.30" font-size="9.88" font-family="Liberation Sans" font-weight="bold" stroke="#111" stroke-width="0.22" fill="#111" textLength="20.48" lengthAdjust="spacingAndGlyphs">DNA</text>
<line x1="321.7" y1="31.45" x2="337.8" y2="31.45" stroke="#ec1c24" stroke-width="1.6"/>
<text x="341.06" y="34.85" font-size="9.88" font-family="Liberation Sans" font-weight="bold" stroke="#111" stroke-width="0.22" fill="#111" textLength="51.29" lengthAdjust="spacingAndGlyphs">DNA-CTMA</text>
<line x1="321.7" y1="42.650000000000006" x2="337.8" y2="42.650000000000006" stroke="#2b3190" stroke-width="1.6"/>
<text x="341.06" y="46.05" font-size="9.88" font-family="Liberation Sans" font-weight="bold" stroke="#111" stroke-width="0.22" fill="#111" textLength="85.78" lengthAdjust="spacingAndGlyphs">DNA + MWCNT-OH</text>
<line x1="321.7" y1="54.0" x2="337.8" y2="54.0" stroke="#0e7a85" stroke-width="1.6"/>
<text x="341.06" y="57.40" font-size="9.88" font-family="Liberation Sans" font-weight="bold" stroke="#111" stroke-width="0.22" fill="#111" textLength="54.59" lengthAdjust="spacingAndGlyphs">MWCNT-OH</text>
<text x="447.27" y="12.98" font-size="15.77" font-family="Liberation Sans" font-weight="bold" fill="#111" textLength="17.96" lengthAdjust="spacingAndGlyphs">(c)</text>
<polyline points="472.00,153.59 472.60,153.58 473.20,153.56 473.80,153.55 474.40,153.53 475.00,153.51 475.60,153.48 476.20,153.45 476.80,153.42 477.40,153.39 478.00,153.35 478.60,153.31 479.20,153.27 479.80,153.22 480.40,153.18 481.00,153.13 481.60,153.08 482.20,153.02 482.80,152.97 483.40,152.91 484.00,152.85 484.60,152.79 485.20,152.73 485.80,152.66 486.40,152.60 487.00,152.53 487.60,152.46 488.20,152.39 488.80,152.32 489.40,152.25 490.00,152.17 490.60,152.10 491.20,152.02 491.80,151.95 492.40,151.87 493.00,151.79 493.60,151.71 494.20,151.63 494.80,151.55 495.40,151.47 496.00,151.39 496.60,151.30 497.20,151.22 497.80,151.13 498.40,151.03 499.00,150.93 499.60,150.82 500.20,150.71 500.80,150.60 501.40,150.48 502.00,150.36 502.60,150.23 503.20,150.10 503.80,149.96 504.40,149.82 505.00,149.68 505.60,149.54 506.20,149.39 506.80,149.25 507.40,149.10 508.00,148.95 508.60,148.79 509.20,148.64 509.80,148.48 510.40,148.33 511.00,148.17 511.60,148.01 512.20,147.85 512.80,147.69 513.40,147.53 514.00,147.36 514.60,147.18 515.20,147.00 515.80,146.81 516.40,146.62 517.00,146.42 517.60,146.23 518.20,146.04 518.80,145.86 519.40,145.68 520.00,145.51 520.60,145.35 521.20,145.21 521.80,145.07 522.40,144.94 523.00,144.82 523.60,144.70 524.20,144.59 524.80,144.48 525.40,144.37 526.00,144.26 526.60,144.16 527.20,144.06 527.80,143.97 528.40,143.88 529.00,143.80 529.60,143.72 530.20,143.65 530.80,143.59 531.40,143.54 532.00,143.50 532.60,143.47 533.20,143.46 533.80,143.46 534.40,143.49 535.00,143.53 535.60,143.60 536.20,143.69 536.80,143.79 537.40,143.92 538.00,144.05 538.60,144.20 539.20,144.34 539.80,144.49 540.40,144.64 541.00,144.79 541.60,144.94 542.20,145.09 542.80,145.24 543.40,145.39 544.00,145.54 544.60,145.69 545.20,145.85 545.80,146.01 546.40,146.17 547.00,146.34 547.60,146.50 548.20,146.67 548.80,146.83 549.40,146.99 550.00,147.16 550.60,147.32 551.20,147.49 551.80,147.65 552.40,147.82 553.00,147.99 553.60,148.16 554.20,148.34 554.80,148.52 555.40,148.70 556.00,148.88 556.60,149.06 557.20,149.24 557.80,149.41 558.40,149.58 559.00,149.74 559.60,149.89 560.20,150.04 560.80,150.17 561.40,150.30 562.00,150.41 562.60,150.51 563.20,150.60 563.80,150.68 564.40,150.76 565.00,150.83 565.60,150.89 566.20,150.95 566.80,151.01 567.40,151.07 568.00,151.12 568.60,151.17 569.20,151.22 569.80,151.26 570.40,151.31 571.00,151.35 571.60,151.39 572.20,151.43 572.80,151.47 573.40,151.51 574.00,151.54 574.60,151.58 575.20,151.61 575.80,151.64 576.40,151.67 577.00,151.70 577.60,151.73 578.20,151.76 578.80,151.79 579.40,151.82 580.00,151.85 580.60,151.88 581.20,151.90 581.80,151.93 582.40,151.95 583.00,151.98 583.60,152.00 584.20,152.02 584.80,152.05 585.40,152.07 586.00,152.09 586.60,152.11 587.20,152.12 587.80,152.14 588.40,152.16 589.00,152.17 589.60,152.19 590.20,152.20 590.80,152.22 591.40,152.23 592.00,152.24 592.60,152.26 593.20,152.27 593.80,152.28 594.40,152.30 595.00,152.31 595.60,152.32 596.20,152.34 596.80,152.35 597.40,152.36 598.00,152.37 598.60,152.39 599.20,152.40 599.80,152.41 600.40,152.42 601.00,152.44 601.60,152.45 602.20,152.46 602.80,152.47 603.40,152.49 604.00,152.50 604.60,152.51 605.20,152.52 605.80,152.53 606.40,152.55 607.00,152.56 607.60,152.57 608.20,152.58 608.80,152.59 609.40,152.60 610.00,152.61 610.60,152.62 611.20,152.64 611.80,152.65 612.40,152.66 613.00,152.67 613.60,152.68 614.20,152.69 614.80,152.70 615.40,152.71 616.00,152.72 616.60,152.73 617.20,152.74 617.80,152.75 618.40,152.76 619.00,152.77 619.60,152.78 620.20,152.79 620.80,152.80 621.40,152.81 622.00,152.82 622.60,152.82 623.20,152.83 623.80,152.84 624.40,152.85 625.00,152.86 625.60,152.87 626.20,152.88 626.80,152.88 627.40,152.89 628.00,152.90 628.60,152.91 629.20,152.92 629.80,152.92 630.40,152.93 631.00,152.94 631.60,152.94 632.20,152.95 632.80,152.96 633.40,152.96 634.00,152.97 634.60,152.98 635.20,152.98 635.80,152.99 636.40,153.00 637.00,153.00 637.60,153.01 638.20,153.01 638.80,153.02 639.40,153.02 640.00,153.03 640.60,153.03 641.20,153.04 641.80,153.04 642.40,153.05 643.00,153.05 643.60,153.05 644.20,153.06 644.80,153.06 645.40,153.07 646.00,153.07 646.60,153.07 647.20,153.07 647.80,153.08 648.40,153.08 649.00,153.08 649.60,153.09 650.20,153.09 650.80,153.09 651.40,153.09 652.00,153.09 652.60,153.09 653.20,153.10 653.80,153.10 654.40,153.10 655.00,153.10 655.60,153.10 656.20,153.10 656.80,153.10" fill="none" stroke="#0e7a85" stroke-width="1.5" stroke-linejoin="round" stroke-linecap="round"/>
<polyline points="472.00,154.19 472.60,154.17 473.20,154.15 473.80,154.11 474.40,154.07 475.00,154.02 475.60,153.96 476.20,153.89 476.80,153.82 477.40,153.74 478.00,153.65 478.60,153.56 479.20,153.47 479.80,153.37 480.40,153.27 481.00,153.17 481.60,153.07 482.20,152.96 482.80,152.84 483.40,152.72 484.00,152.58 484.60,152.44 485.20,152.27 485.80,152.10 486.40,151.90 487.00,151.69 487.60,151.44 488.20,151.16 488.80,150.82 489.40,150.40 490.00,149.91 490.60,149.34 491.20,148.72 491.80,148.07 492.40,147.41 493.00,146.76 493.60,146.13 494.20,145.50 494.80,144.88 495.40,144.23 496.00,143.54 496.60,142.79 497.20,141.94 497.80,141.00 498.40,139.98 499.00,138.93 499.60,137.87 500.20,136.86 500.80,135.93 501.40,135.10 502.00,134.38 502.60,133.74 503.20,133.21 503.80,132.80 504.40,132.53 505.00,132.41 505.60,132.42 506.20,132.54 506.80,132.73 507.40,132.95 508.00,133.19 508.60,133.40 509.20,133.57 509.80,133.64 510.40,133.53 511.00,133.17 511.60,132.48 512.20,131.43 512.80,130.05 513.40,128.38 514.00,126.49 514.60,124.44 515.20,122.32 515.80,120.17 516.40,118.06 517.00,116.01 517.60,114.00 518.20,112.01 518.80,109.98 519.40,107.91 520.00,105.85 520.60,103.86 521.20,102.02 521.80,100.41 522.40,99.06 523.00,97.98 523.60,97.13 524.20,96.44 524.80,95.87 525.40,95.38 526.00,94.97 526.60,94.67 527.20,94.49 527.80,94.45 528.40,94.59 529.00,94.92 529.60,95.43 530.20,96.12 530.80,96.95 531.40,97.91 532.00,99.02 532.60,100.32 533.20,101.89 533.80,103.76 534.40,105.90 535.00,108.22 535.60,110.59 536.20,112.89 536.80,115.04 537.40,116.97 538.00,118.70 538.60,120.28 539.20,121.73 539.80,123.11 540.40,124.41 541.00,125.65 541.60,126.84 542.20,127.98 542.80,129.07 543.40,130.12 544.00,131.14 544.60,132.13 545.20,133.09 545.80,134.01 546.40,134.92 547.00,135.79 547.60,136.64 548.20,137.46 548.80,138.25 549.40,139.02 550.00,139.77 550.60,140.50 551.20,141.20 551.80,141.88 552.40,142.54 553.00,143.17 553.60,143.78 554.20,144.36 554.80,144.93 555.40,145.47 556.00,145.99 556.60,146.50 557.20,147.01 557.80,147.51 558.40,148.00 559.00,148.47 559.60,148.92 560.20,149.35 560.80,149.73 561.40,150.07 562.00,150.37 562.60,150.61 563.20,150.81 563.80,150.98 564.40,151.13 565.00,151.26 565.60,151.39 566.20,151.50 566.80,151.61 567.40,151.72 568.00,151.82 568.60,151.91 569.20,151.99 569.80,152.07 570.40,152.15 571.00,152.22 571.60,152.28 572.20,152.35 572.80,152.40 573.40,152.46 574.00,152.51 574.60,152.57 575.20,152.61 575.80,152.66 576.40,152.71 577.00,152.76 577.60,152.81 578.20,152.85 578.80,152.90 579.40,152.94 580.00,152.98 580.60,153.03 581.20,153.07 581.80,153.10 582.40,153.14 583.00,153.18 583.60,153.21 584.20,153.24 584.80,153.27 585.40,153.30 586.00,153.32 586.60,153.34 587.20,153.36 587.80,153.37 588.40,153.38 589.00,153.39 589.60,153.40 590.20,153.40 590.80,153.40 591.40,153.40 592.00,153.40 592.60,153.40 593.20,153.40 593.80,153.40 594.40,153.40 595.00,153.40 595.60,153.40 596.20,153.40 596.80,153.40 597.40,153.40 598.00,153.40 598.60,153.40 599.20,153.40 599.80,153.40 600.40,153.40 601.00,153.40 601.60,153.40 602.20,153.40 602.80,153.40 603.40,153.40 604.00,153.40 604.60,153.40 605.20,153.40 605.80,153.40 606.40,153.40 607.00,153.40 607.60,153.40 608.20,153.40 608.80,153.40 609.40,153.40 610.00,153.39 610.60,153.39 611.20,153.39 611.80,153.39 612.40,153.39 613.00,153.39 613.60,153.39 614.20,153.39 614.80,153.39 615.40,153.39 616.00,153.39 616.60,153.39 617.20,153.39 617.80,153.39 618.40,153.38 619.00,153.38 619.60,153.38 620.20,153.38 620.80,153.38 621.40,153.38 622.00,153.38 622.60,153.38 623.20,153.38 623.80,153.37 624.40,153.37 625.00,153.37 625.60,153.37 626.20,153.37 626.80,153.37 627.40,153.37 628.00,153.36 628.60,153.36 629.20,153.36 629.80,153.36 630.40,153.36 631.00,153.35 631.60,153.35 632.20,153.35 632.80,153.35 633.40,153.35 634.00,153.34 634.60,153.34 635.20,153.34 635.80,153.34 636.40,153.33 637.00,153.33 637.60,153.33 638.20,153.33 638.80,153.32 639.40,153.32 640.00,153.32 640.60,153.31 641.20,153.31 641.80,153.31 642.40,153.30 643.00,153.30 643.60,153.30 644.20,153.29 644.80,153.29 645.40,153.29 646.00,153.28 646.60,153.28 647.20,153.28 647.80,153.27 648.40,153.27 649.00,153.26 649.60,153.26 650.20,153.25 650.80,153.25 651.40,153.25 652.00,153.24 652.60,153.24 653.20,153.23 653.80,153.23 654.40,153.22 655.00,153.22 655.60,153.21 656.20,153.21 656.80,153.21" fill="none" stroke="#ec1c24" stroke-width="1.5" stroke-linejoin="round" stroke-linecap="round"/>
<polyline points="472.00,152.59 472.60,152.57 473.20,152.54 473.80,152.50 474.40,152.44 475.00,152.37 475.60,152.29 476.20,152.21 476.80,152.11 477.40,152.00 478.00,151.89 478.60,151.76 479.20,151.64 479.80,151.51 480.40,151.37 481.00,151.23 481.60,151.09 482.20,150.93 482.80,150.77 483.40,150.59 484.00,150.39 484.60,150.18 485.20,149.94 485.80,149.68 486.40,149.41 487.00,149.11 487.60,148.78 488.20,148.41 488.80,148.00 489.40,147.53 490.00,147.01 490.60,146.44 491.20,145.82 491.80,145.15 492.40,144.43 493.00,143.65 493.60,142.80 494.20,141.90 494.80,140.96 495.40,139.99 496.00,139.00 496.60,137.99 497.20,136.95 497.80,135.82 498.40,134.55 499.00,133.05 499.60,131.28 500.20,129.23 500.80,126.96 501.40,124.54 502.00,122.03 502.60,119.43 503.20,116.73 503.80,113.91 504.40,111.01 505.00,108.11 505.60,105.33 506.20,102.78 506.80,100.50 507.40,98.46 508.00,96.64 508.60,94.98 509.20,93.49 509.80,92.16 510.40,90.98 511.00,89.95 511.60,89.03 512.20,88.21 512.80,87.48 513.40,86.88 514.00,86.43 514.60,86.15 515.20,86.04 515.80,86.09 516.40,86.26 517.00,86.51 517.60,86.80 518.20,87.09 518.80,87.34 519.40,87.51 520.00,87.55 520.60,87.44 521.20,87.14 521.80,86.67 522.40,86.07 523.00,85.38 523.60,84.65 524.20,83.94 524.80,83.29 525.40,82.69 526.00,82.14 526.60,81.63 527.20,81.13 527.80,80.67 528.40,80.25 529.00,79.89 529.60,79.62 530.20,79.48 530.80,79.51 531.40,79.74 532.00,80.19 532.60,80.86 533.20,81.73 533.80,82.75 534.40,83.91 535.00,85.19 535.60,86.64 536.20,88.30 536.80,90.18 537.40,92.26 538.00,94.50 538.60,96.85 539.20,99.30 539.80,101.84 540.40,104.51 541.00,107.29 541.60,110.12 542.20,112.91 542.80,115.56 543.40,117.98 544.00,120.13 544.60,122.06 545.20,123.80 545.80,125.40 546.40,126.88 547.00,128.24 547.60,129.47 548.20,130.56 548.80,131.51 549.40,132.31 550.00,132.99 550.60,133.57 551.20,134.08 551.80,134.53 552.40,134.94 553.00,135.31 553.60,135.66 554.20,136.00 554.80,136.32 555.40,136.64 556.00,136.95 556.60,137.25 557.20,137.52 557.80,137.75 558.40,137.93 559.00,138.05 559.60,138.12 560.20,138.13 560.80,138.11 561.40,138.05 562.00,137.96 562.60,137.86 563.20,137.73 563.80,137.59 564.40,137.44 565.00,137.28 565.60,137.12 566.20,136.95 566.80,136.79 567.40,136.62 568.00,136.46 568.60,136.32 569.20,136.18 569.80,136.05 570.40,135.93 571.00,135.80 571.60,135.68 572.20,135.56 572.80,135.43 573.40,135.31 574.00,135.19 574.60,135.07 575.20,134.96 575.80,134.86 576.40,134.77 577.00,134.69 577.60,134.62 578.20,134.57 578.80,134.54 579.40,134.53 580.00,134.54 580.60,134.58 581.20,134.63 581.80,134.71 582.40,134.81 583.00,134.92 583.60,135.05 584.20,135.19 584.80,135.34 585.40,135.49 586.00,135.65 586.60,135.82 587.20,135.98 587.80,136.15 588.40,136.33 589.00,136.52 589.60,136.72 590.20,136.93 590.80,137.16 591.40,137.41 592.00,137.66 592.60,137.93 593.20,138.20 593.80,138.48 594.40,138.77 595.00,139.05 595.60,139.34 596.20,139.63 596.80,139.92 597.40,140.20 598.00,140.48 598.60,140.75 599.20,141.01 599.80,141.27 600.40,141.51 601.00,141.76 601.60,142.00 602.20,142.24 602.80,142.48 603.40,142.73 604.00,142.97 604.60,143.22 605.20,143.47 605.80,143.71 606.40,143.95 607.00,144.19 607.60,144.42 608.20,144.65 608.80,144.87 609.40,145.08 610.00,145.28 610.60,145.47 611.20,145.65 611.80,145.82 612.40,145.97 613.00,146.11 613.60,146.24 614.20,146.35 614.80,146.46 615.40,146.55 616.00,146.65 616.60,146.74 617.20,146.83 617.80,146.92 618.40,147.00 619.00,147.08 619.60,147.16 620.20,147.24 620.80,147.31 621.40,147.38 622.00,147.45 622.60,147.51 623.20,147.56 623.80,147.61 624.40,147.66 625.00,147.69 625.60,147.73 626.20,147.75 626.80,147.77 627.40,147.79 628.00,147.79 628.60,147.80 629.20,147.80 629.80,147.80 630.40,147.80 631.00,147.80 631.60,147.80 632.20,147.80 632.80,147.80 633.40,147.80 634.00,147.80 634.60,147.80 635.20,147.80 635.80,147.80 636.40,147.80 637.00,147.80 637.60,147.80 638.20,147.80 638.80,147.80 639.40,147.80 640.00,147.80 640.60,147.80 641.20,147.80 641.80,147.80 642.40,147.80 643.00,147.80 643.60,147.80 644.20,147.80 644.80,147.80 645.40,147.80 646.00,147.80 646.60,147.80 647.20,147.80 647.80,147.80 648.40,147.80 649.00,147.80 649.60,147.80 650.20,147.80 650.80,147.80 651.40,147.80 652.00,147.80 652.60,147.80 653.20,147.80 653.80,147.80 654.40,147.80 655.00,147.80 655.60,147.80 656.20,147.80 656.80,147.80" fill="none" stroke="#111111" stroke-width="1.6" stroke-linejoin="round" stroke-linecap="round"/>
<polyline points="472.00,150.78 472.60,150.76 473.20,150.72 473.80,150.67 474.40,150.60 475.00,150.52 475.60,150.43 476.20,150.32 476.80,150.21 477.40,150.09 478.00,149.96 478.60,149.82 479.20,149.68 479.80,149.53 480.40,149.37 481.00,149.20 481.60,149.00 482.20,148.78 482.80,148.54 483.40,148.28 484.00,147.99 484.60,147.68 485.20,147.33 485.80,146.94 486.40,146.50 487.00,146.01 487.60,145.45 488.20,144.81 488.80,144.08 489.40,143.24 490.00,142.25 490.60,141.12 491.20,139.85 491.80,138.46 492.40,136.97 493.00,135.38 493.60,133.70 494.20,131.90 494.80,129.98 495.40,127.94 496.00,125.79 496.60,123.55 497.20,121.24 497.80,118.84 498.40,116.32 499.00,113.68 499.60,110.89 500.20,107.92 500.80,104.68 501.40,101.07 502.00,97.00 502.60,92.48 503.20,87.75 503.80,83.14 504.40,79.03 505.00,75.58 505.60,72.76 506.20,70.40 506.80,68.36 507.40,66.60 508.00,65.13 508.60,63.98 509.20,63.19 509.80,62.77 510.40,62.72 511.00,62.99 511.60,63.52 512.20,64.26 512.80,65.17 513.40,66.20 514.00,67.29 514.60,68.41 515.20,69.50 515.80,70.53 516.40,71.44 517.00,72.18 517.60,72.70 518.20,72.92 518.80,72.78 519.40,72.20 520.00,71.20 520.60,69.81 521.20,68.10 521.80,66.14 522.40,63.93 523.00,61.47 523.60,58.79 524.20,56.03 524.80,53.36 525.40,50.90 526.00,48.66 526.60,46.59 527.20,44.55 527.80,42.47 528.40,40.30 529.00,38.07 529.60,35.86 530.20,33.75 530.80,31.82 531.40,30.14 532.00,28.78 532.60,27.87 533.20,27.51 533.80,27.71 534.40,28.39 535.00,29.51 535.60,31.04 536.20,32.99 536.80,35.41 537.40,38.31 538.00,41.69 538.60,45.47 539.20,49.48 539.80,53.58 540.40,57.64 541.00,61.61 541.60,65.42 542.20,69.03 542.80,72.38 543.40,75.46 544.00,78.24 544.60,80.75 545.20,83.07 545.80,85.35 546.40,87.78 547.00,90.49 547.60,93.47 548.20,96.60 548.80,99.73 549.40,102.72 550.00,105.51 550.60,108.05 551.20,110.33 551.80,112.34 552.40,114.10 553.00,115.61 553.60,116.89 554.20,117.97 554.80,118.89 555.40,119.69 556.00,120.40 556.60,121.04 557.20,121.63 557.80,122.18 558.40,122.69 559.00,123.17 559.60,123.62 560.20,124.05 560.80,124.47 561.40,124.87 562.00,125.25 562.60,125.64 563.20,126.02 563.80,126.40 564.40,126.78 565.00,127.18 565.60,127.57 566.20,127.97 566.80,128.37 567.40,128.77 568.00,129.16 568.60,129.56 569.20,129.95 569.80,130.34 570.40,130.73 571.00,131.12 571.60,131.50 572.20,131.88 572.80,132.26 573.40,132.64 574.00,133.01 574.60,133.38 575.20,133.74 575.80,134.11 576.40,134.46 577.00,134.82 577.60,135.17 578.20,135.52 578.80,135.87 579.40,136.22 580.00,136.56 580.60,136.90 581.20,137.24 581.80,137.58 582.40,137.91 583.00,138.24 583.60,138.56 584.20,138.88 584.80,139.20 585.40,139.51 586.00,139.82 586.60,140.12 587.20,140.42 587.80,140.71 588.40,141.00 589.00,141.29 589.60,141.58 590.20,141.88 590.80,142.18 591.40,142.49 592.00,142.79 592.60,143.09 593.20,143.38 593.80,143.67 594.40,143.95 595.00,144.23 595.60,144.49 596.20,144.73 596.80,144.96 597.40,145.18 598.00,145.38 598.60,145.55 599.20,145.70 599.80,145.84 600.40,145.95 601.00,146.04 601.60,146.13 602.20,146.21 602.80,146.28 603.40,146.35 604.00,146.42 604.60,146.49 605.20,146.56 605.80,146.62 606.40,146.68 607.00,146.73 607.60,146.79 608.20,146.84 608.80,146.88 609.40,146.92 610.00,146.96 610.60,146.99 611.20,147.02 611.80,147.04 612.40,147.06 613.00,147.08 613.60,147.09 614.20,147.10 614.80,147.10 615.40,147.10 616.00,147.10 616.60,147.10 617.20,147.10 617.80,147.10 618.40,147.10 619.00,147.10 619.60,147.10 620.20,147.10 620.80,147.10 621.40,147.10 622.00,147.10 622.60,147.10 623.20,147.10 623.80,147.10 624.40,147.10 625.00,147.10 625.60,147.10 626.20,147.10 626.80,147.10 627.40,147.10 628.00,147.10 628.60,147.10 629.20,147.10 629.80,147.10 630.40,147.10 631.00,147.10 631.60,147.10 632.20,147.10 632.80,147.10 633.40,147.10 634.00,147.10 634.60,147.10 635.20,147.10 635.80,147.10 636.40,147.10 637.00,147.10 637.60,147.10 638.20,147.10 638.80,147.10 639.40,147.10 640.00,147.10 640.60,147.10 641.20,147.10 641.80,147.10 642.40,147.10 643.00,147.10 643.60,147.10 644.20,147.10 644.80,147.10 645.40,147.10 646.00,147.10 646.60,147.10 647.20,147.10 647.80,147.10 648.40,147.10 649.00,147.10 649.60,147.10 650.20,147.10 650.80,147.10 651.40,147.10 652.00,147.10 652.60,147.10 653.20,147.10 653.80,147.10 654.40,147.10 655.00,147.10 655.60,147.10 656.20,147.10 656.80,147.10" fill="none" stroke="#2b3190" stroke-width="1.5" stroke-linejoin="round" stroke-linecap="round"/>
<rect x="471.5" y="6.6" width="186.10000000000002" height="148.70000000000002" fill="none" stroke="#111" stroke-width="1.4"/>
<line x1="471.5" y1="155.3" x2="471.5" y2="151.8" stroke="#222" stroke-width="1.2"/>
<line x1="498.0857142857143" y1="155.3" x2="498.0857142857143" y2="153.10000000000002" stroke="#222" stroke-width="1.2"/>
<line x1="524.6714285714286" y1="155.3" x2="524.6714285714286" y2="151.8" stroke="#222" stroke-width="1.2"/>
<line x1="551.2571428571429" y1="155.3" x2="551.2571428571429" y2="153.10000000000002" stroke="#222" stroke-width="1.2"/>
<line x1="577.8428571428572" y1="155.3" x2="577.8428571428572" y2="151.8" stroke="#222" stroke-width="1.2"/>
<line x1="604.4285714285714" y1="155.3" x2="604.4285714285714" y2="153.10000000000002" stroke="#222" stroke-width="1.2"/>
<line x1="631.0142857142857" y1="155.3" x2="631.0142857142857" y2="151.8" stroke="#222" stroke-width="1.2"/>
<line x1="657.6" y1="155.3" x2="657.6" y2="153.10000000000002" stroke="#222" stroke-width="1.2"/>
<text x="465.34" y="167.65" font-size="11.75" font-family="Liberation Sans" font-weight="bold" stroke="#111" stroke-width="0.22" fill="#111" textLength="19.31" lengthAdjust="spacingAndGlyphs">528</text>
<text x="517.25" y="167.65" font-size="11.75" font-family="Liberation Sans" font-weight="bold" stroke="#111" stroke-width="0.22" fill="#111" textLength="18.90" lengthAdjust="spacingAndGlyphs">532</text>
<text x="570.24" y="167.65" font-size="11.75" font-family="Liberation Sans" font-weight="bold" stroke="#111" stroke-width="0.22" fill="#111" textLength="19.48" lengthAdjust="spacingAndGlyphs">536</text>
<text x="623.44" y="167.65" font-size="11.75" font-family="Liberation Sans" font-weight="bold" stroke="#111" stroke-width="0.22" fill="#111" textLength="19.54" lengthAdjust="spacingAndGlyphs">540</text>
<text x="512.19" y="186.35" font-size="12.94" font-family="Liberation Sans" font-weight="bold" stroke="#111" stroke-width="0.22" fill="#111" textLength="115.21" lengthAdjust="spacingAndGlyphs">Binding Energy (eV)</text>
<text x="-0.81" y="0" font-size="13.81" font-family="Liberation Sans" font-weight="bold" stroke="#111" stroke-width="0.22" fill="#111" textLength="116.42" lengthAdjust="spacingAndGlyphs" transform="translate(460.35,141.50) rotate(-90)">Intensity (arb. units)</text>
<text x="482.12" y="22.15" font-size="11.19" font-family="Liberation Sans" font-weight="bold" stroke="#111" stroke-width="0.22" fill="#111" textLength="20.16" lengthAdjust="spacingAndGlyphs">O 1s</text>
<line x1="549.7" y1="19.2" x2="565.8" y2="19.2" stroke="#111111" stroke-width="1.6"/>
<text x="569.07" y="22.40" font-size="9.88" font-family="Liberation Sans" font-weight="bold" stroke="#111" stroke-width="0.22" fill="#111" textLength="20.48" lengthAdjust="spacingAndGlyphs">DNA</text>
<line x1="549.7" y1="30" x2="565.8" y2="30" stroke="#ec1c24" stroke-width="1.6"/>
<text x="569.05" y="33.70" font-size="9.88" font-family="Liberation Sans" font-weight="bold" stroke="#111" stroke-width="0.22" fill="#111" textLength="52.00" lengthAdjust="spacingAndGlyphs">DNA-CTMA</text>
<line x1="549.7" y1="41.6" x2="565.8" y2="41.6" stroke="#2b3190" stroke-width="1.6"/>
<text x="569.06" y="44.90" font-size="9.88" font-family="Liberation Sans" font-weight="bold" stroke="#111" stroke-width="0.22" fill="#111" textLength="85.68" lengthAdjust="spacingAndGlyphs">DNA + MWCNT-OH</text>
<line x1="549.7" y1="52.9" x2="565.8" y2="52.9" stroke="#0e7a85" stroke-width="1.6"/>
<text x="569.05" y="55.95" font-size="9.88" font-family="Liberation Sans" font-weight="bold" stroke="#111" stroke-width="0.22" fill="#111" textLength="54.70" lengthAdjust="spacingAndGlyphs">MWCNT-OH</text>
<text x="0.07" y="207.30" font-size="16.63" font-family="Liberation Sans" font-weight="bold" fill="#111" textLength="18.76" lengthAdjust="spacingAndGlyphs">(d)</text>
<rect x="41.4" y="297" width="4.100000000000001" height="34.60000000000002" fill="#111111"/>
<rect x="47.0" y="285.4" width="4.100000000000001" height="46.200000000000045" fill="#ec1c24"/>
<rect x="52.9" y="309.6" width="4.100000000000001" height="22.0" fill="#2b3190"/>
<rect x="58.7" y="205" width="4.299999999999997" height="126.60000000000002" fill="#0e7a85"/>
<rect x="51.2" y="328.40000000000003" width="1.5999999999999943" height="3.1999999999999886" fill="#222"/>
<rect x="76.8" y="311" width="4.200000000000003" height="20.600000000000023" fill="#111111"/>
<rect x="82.7" y="313.7" width="4.099999999999994" height="17.900000000000034" fill="#ec1c24"/>
<rect x="88.9" y="296" width="4.199999999999989" height="35.60000000000002" fill="#2b3190"/>
<rect x="94.2" y="328.3" width="4.3999999999999915" height="3.3000000000000114" fill="#0e7a85"/>
<rect x="86.89999999999999" y="328.40000000000003" width="1.90000000000002" height="3.1999999999999886" fill="#222"/>
<rect x="112.9" y="326" width="4.099999999999994" height="5.600000000000023" fill="#111111"/>
<rect x="118.6" y="328.6" width="4.1000000000000085" height="3.0" fill="#ec1c24"/>
<rect x="124.3" y="319" width="4.299999999999997" height="12.600000000000023" fill="#2b3190"/>
<rect x="122.8" y="328.40000000000003" width="1.4000000000000057" height="3.1999999999999886" fill="#222"/>
<rect x="148.5" y="328.6" width="4.400000000000006" height="3.0" fill="#111111"/>
<rect x="154.2" y="330.1" width="4.100000000000023" height="1.5" fill="#ec1c24"/>
<rect x="160.1" y="326" width="4.400000000000006" height="5.600000000000023" fill="#2b3190"/>
<rect x="158.4" y="328.40000000000003" width="1.5999999999999943" height="3.1999999999999886" fill="#222"/>
<rect x="184.4" y="318.5" width="4.400000000000006" height="13.100000000000023" fill="#111111"/>
<rect x="196" y="308.2" width="4.099999999999994" height="23.400000000000034" fill="#2b3190"/>
<rect x="37.8" y="200.9" width="172.60000000000002" height="130.6" fill="none" stroke="#111" stroke-width="1.3"/>
<line x1="37.8" y1="308.1" x2="40.0" y2="308.1" stroke="#111" stroke-width="1.1"/>
<line x1="37.8" y1="284.8" x2="41.0" y2="284.8" stroke="#111" stroke-width="1.1"/>
<line x1="37.8" y1="261.5" x2="40.0" y2="261.5" stroke="#111" stroke-width="1.1"/>
<line x1="37.8" y1="238.1" x2="41.0" y2="238.1" stroke="#111" stroke-width="1.1"/>
<line x1="37.8" y1="214.6" x2="40.0" y2="214.6" stroke="#111" stroke-width="1.1"/>
<text x="23.73" y="241.55" font-size="11.03" font-family="Liberation Sans" font-weight="bold" fill="#111" textLength="6.33" lengthAdjust="spacingAndGlyphs">4</text>
<text x="24.42" y="288.25" font-size="10.46" font-family="Liberation Sans" font-weight="bold" fill="#111" textLength="6.12" lengthAdjust="spacingAndGlyphs">2</text>
<text x="24.36" y="333.05" font-size="10.03" font-family="Liberation Sans" font-weight="bold" fill="#111" textLength="6.20" lengthAdjust="spacingAndGlyphs">0</text>
<text x="47.45" y="343.35" font-size="10.89" font-family="Liberation Sans" font-weight="bold" stroke="#111" stroke-width="0.22" fill="#111" textLength="7.84" lengthAdjust="spacingAndGlyphs">C</text>
<text x="82.49" y="343.35" font-size="10.89" font-family="Liberation Sans" font-weight="bold" stroke="#111" stroke-width="0.22" fill="#111" textLength="9.63" lengthAdjust="spacingAndGlyphs">O</text>
<text x="118.75" y="343.35" font-size="11.05" font-family="Liberation Sans" font-weight="bold" stroke="#111" stroke-width="0.22" fill="#111" textLength="9.21" lengthAdjust="spacingAndGlyphs">N</text>
<text x="156.10" y="343.35" font-size="11.05" font-family="Liberation Sans" font-weight="bold" stroke="#111" stroke-width="0.22" fill="#111" textLength="6.95" lengthAdjust="spacingAndGlyphs">P</text>
<text x="187.72" y="343.35" font-size="11.05" font-family="Liberation Sans" font-weight="bold" stroke="#111" stroke-width="0.22" fill="#111" textLength="14.91" lengthAdjust="spacingAndGlyphs">Na</text>
<text x="99.16" y="360.65" font-size="12.65" font-family="Liberation Sans" font-weight="bold" stroke="#111" stroke-width="0.22" fill="#111" textLength="48.69" lengthAdjust="spacingAndGlyphs">Element</text>
<g transform="translate(14.35,303.10) rotate(-90) scale(0.8438,1)"><text x="-0.95" y="0" font-size="14.24" font-family="Liberation Sans" font-weight="bold" stroke="#111" stroke-width="0.22" fill="#111">Height (x 10<tspan font-size="7.41" dy="-5.70">4</tspan><tspan dy="5.70">)</tspan></text></g>
<rect x="89.7" y="217.9" width="13.399999999999991" height="4.199999999999989" fill="#111111"/>
<text x="107.14" y="223.10" font-size="9.88" font-family="Liberation Sans" font-weight="bold" stroke="#111" stroke-width="0.22" fill="#111" textLength="21.32" lengthAdjust="spacingAndGlyphs">DNA</text>
<rect x="89.7" y="228.5" width="13.399999999999991" height="4.199999999999989" fill="#ec1c24"/>
<text x="107.16" y="233.00" font-size="9.88" font-family="Liberation Sans" font-weight="bold" stroke="#111" stroke-width="0.22" fill="#111" textLength="51.80" lengthAdjust="spacingAndGlyphs">DNA-CTMA</text>
<rect x="89.7" y="239.0" width="13.399999999999991" height="4.199999999999989" fill="#2b3190"/>
<text x="107.16" y="243.70" font-size="9.88" font-family="Liberation Sans" font-weight="bold" stroke="#111" stroke-width="0.22" fill="#111" textLength="86.49" lengthAdjust="spacingAndGlyphs">DNA + MWCNT-OH</text>
<rect x="89.7" y="249.1" width="13.399999999999991" height="4.199999999999989" fill="#0e7a85"/>
<text x="107.16" y="254.15" font-size="9.88" font-family="Liberation Sans" font-weight="bold" stroke="#111" stroke-width="0.22" fill="#111" textLength="54.59" lengthAdjust="spacingAndGlyphs">MWCNT-OH</text>
<rect x="194.4" y="328.40000000000003" width="1.5" height="3.1999999999999886" fill="#222"/>
<text x="223.65" y="207.07" font-size="16.31" font-family="Liberation Sans" font-weight="bold" fill="#111" textLength="18.29" lengthAdjust="spacingAndGlyphs">(e)</text>
<rect x="265.5" y="267.1" width="4.300000000000011" height="64.5" fill="#111111"/>
<rect x="271.0" y="265.9" width="4.0" height="65.70000000000005" fill="#ec1c24"/>
<rect x="276.7" y="274.3" width="4.300000000000011" height="57.30000000000001" fill="#2b3190"/>
<rect x="282.9" y="207.3" width="4.100000000000023" height="124.30000000000001" fill="#0e7a85"/>
<rect x="275.1" y="328.40000000000003" width="1.4999999999999432" height="3.1999999999999886" fill="#222"/>
<rect x="301.3" y="268.6" width="4.099999999999966" height="63.0" fill="#111111"/>
<rect x="306.9" y="296.3" width="4.0" height="35.30000000000001" fill="#ec1c24"/>
<rect x="312.6" y="233.7" width="4.199999999999989" height="97.90000000000003" fill="#2b3190"/>
<rect x="318.9" y="319.4" width="4.0" height="12.200000000000045" fill="#0e7a85"/>
<rect x="311.0" y="328.40000000000003" width="1.5" height="3.1999999999999886" fill="#222"/>
<rect x="337" y="316" width="4" height="15.600000000000023" fill="#111111"/>
<rect x="342.9" y="321.1" width="4.100000000000023" height="10.5" fill="#ec1c24"/>
<rect x="348.2" y="297.9" width="4.400000000000034" height="33.700000000000045" fill="#2b3190"/>
<rect x="347.1" y="328.40000000000003" width="0.9999999999999432" height="3.1999999999999886" fill="#222"/>
<rect x="372.6" y="326.3" width="4.399999999999977" height="5.300000000000011" fill="#111111"/>
<rect x="378.5" y="329.4" width="4.5" height="2.2000000000000455" fill="#ec1c24"/>
<rect x="384.2" y="322.9" width="4.400000000000034" height="8.700000000000045" fill="#2b3190"/>
<rect x="383.1" y="328.40000000000003" width="0.9999999999999432" height="3.1999999999999886" fill="#222"/>
<rect x="408.7" y="301.5" width="4.199999999999989" height="30.100000000000023" fill="#111111"/>
<rect x="419.9" y="286" width="4.300000000000011" height="45.60000000000002" fill="#2b3190"/>
<rect x="485.5" y="201.0" width="171.89999999999998" height="130.39999999999998" fill="none" stroke="#111" stroke-width="1.3"/>
<rect x="261.8" y="200.8" width="172.2" height="130.59999999999997" fill="none" stroke="#111" stroke-width="1.4"/>
<line x1="261.8" y1="303.5" x2="264.0" y2="303.5" stroke="#111" stroke-width="1.1"/>
<line x1="261.8" y1="275.4" x2="265.0" y2="275.4" stroke="#111" stroke-width="1.1"/>
<line x1="261.8" y1="247.5" x2="264.0" y2="247.5" stroke="#111" stroke-width="1.1"/>
<line x1="261.8" y1="219.4" x2="265.0" y2="219.4" stroke="#111" stroke-width="1.1"/>
<text x="248.34" y="223.85" font-size="11.60" font-family="Liberation Sans" font-weight="bold" fill="#111" textLength="7.02" lengthAdjust="spacingAndGlyphs">6</text>
<text x="248.95" y="279.05" font-size="10.74" font-family="Liberation Sans" font-weight="bold" fill="#111" textLength="6.15" lengthAdjust="spacingAndGlyphs">3</text>
<text x="248.63" y="333.55" font-size="11.32" font-family="Liberation Sans" font-weight="bold" fill="#111" textLength="6.55" lengthAdjust="spacingAndGlyphs">0</text>
<text x="273.14" y="343.45" font-size="10.60" font-family="Liberation Sans" font-weight="bold" stroke="#111" stroke-width="0.22" fill="#111" textLength="8.06" lengthAdjust="spacingAndGlyphs">C</text>
<text x="307.72" y="343.45" font-size="10.60" font-family="Liberation Sans" font-weight="bold" stroke="#111" stroke-width="0.22" fill="#111" textLength="9.18" lengthAdjust="spacingAndGlyphs">O</text>
<text x="344.68" y="343.45" font-size="10.76" font-family="Liberation Sans" font-weight="bold" stroke="#111" stroke-width="0.22" fill="#111" textLength="8.84" lengthAdjust="spacingAndGlyphs">N</text>
<text x="380.84" y="343.45" font-size="10.76" font-family="Liberation Sans" font-weight="bold" stroke="#111" stroke-width="0.22" fill="#111" textLength="7.54" lengthAdjust="spacingAndGlyphs">P</text>
<text x="412.35" y="343.45" font-size="10.76" font-family="Liberation Sans" font-weight="bold" stroke="#111" stroke-width="0.22" fill="#111" textLength="14.38" lengthAdjust="spacingAndGlyphs">Na</text>
<text x="326.08" y="360.75" font-size="13.08" font-family="Liberation Sans" font-weight="bold" stroke="#111" stroke-width="0.22" fill="#111" textLength="47.67" lengthAdjust="spacingAndGlyphs">Element</text>
<g transform="translate(240.05,298.20) rotate(-90) scale(0.8590,1)"><text x="-0.34" y="0" font-size="13.81" font-family="Liberation Sans" font-weight="bold" stroke="#111" stroke-width="0.22" fill="#111">Area (x 10<tspan font-size="7.18" dy="-5.52">4</tspan><tspan dy="5.52">)</tspan></text></g>
<rect x="326.9" y="208.20000000000002" width="13.600000000000023" height="4.199999999999989" fill="#111111"/>
<text x="344.47" y="213.30" font-size="9.88" font-family="Liberation Sans" font-weight="bold" stroke="#111" stroke-width="0.22" fill="#111" textLength="20.38" lengthAdjust="spacingAndGlyphs">DNA</text>
<rect x="326.9" y="219.0" width="13.600000000000023" height="4.199999999999989" fill="#ec1c24"/>
<text x="344.46" y="223.50" font-size="9.88" font-family="Liberation Sans" font-weight="bold" stroke="#111" stroke-width="0.22" fill="#111" textLength="51.59" lengthAdjust="spacingAndGlyphs">DNA-CTMA</text>
<rect x="326.9" y="229.1" width="13.600000000000023" height="4.199999999999989" fill="#2b3190"/>
<text x="344.46" y="234.40" font-size="9.88" font-family="Liberation Sans" font-weight="bold" stroke="#111" stroke-width="0.22" fill="#111" textLength="86.29" lengthAdjust="spacingAndGlyphs">DNA + MWCNT-OH</text>
<rect x="326.9" y="239.8" width="13.600000000000023" height="4.199999999999989" fill="#0e7a85"/>
<text x="344.45" y="244.60" font-size="9.88" font-family="Liberation Sans" font-weight="bold" stroke="#111" stroke-width="0.22" fill="#111" textLength="55.00" lengthAdjust="spacingAndGlyphs">MWCNT-OH</text>
<rect x="418.3" y="328.40000000000003" width="1.5" height="3.1999999999999886" fill="#222"/>
<text x="448.64" y="207.11" font-size="16.09" font-family="Liberation Sans" font-weight="bold" fill="#111" textLength="15.22" lengthAdjust="spacingAndGlyphs">(f)</text>
<rect x="489.1" y="288" width="4.0" height="43.60000000000002" fill="#111111"/>
<rect x="494.6" y="290.9" width="4.2999999999999545" height="40.700000000000045" fill="#ec1c24"/>
<rect x="500.7" y="220.3" width="4.199999999999989" height="111.30000000000001" fill="#2b3190"/>
<rect x="506.3" y="308.6" width="4.0" height="23.0" fill="#0e7a85"/>
<rect x="499.0" y="328.40000000000003" width="1.599999999999966" height="3.1999999999999886" fill="#222"/>
<rect x="524.7" y="231.8" width="4.2999999999999545" height="99.80000000000001" fill="#111111"/>
<rect x="530.1" y="278.6" width="4.5" height="53.0" fill="#ec1c24"/>
<rect x="536.1" y="261.2" width="4.199999999999932" height="70.40000000000003" fill="#2b3190"/>
<rect x="542.1" y="212.1" width="3.8999999999999773" height="119.50000000000003" fill="#0e7a85"/>
<rect x="534.7" y="328.40000000000003" width="1.2999999999999545" height="3.1999999999999886" fill="#222"/>
<rect x="560.5" y="270.6" width="4.100000000000023" height="61.0" fill="#111111"/>
<rect x="566.3" y="292" width="4.0" height="39.60000000000002" fill="#ec1c24"/>
<rect x="572.3" y="232.5" width="4.0" height="99.10000000000002" fill="#2b3190"/>
<rect x="570.4" y="328.40000000000003" width="1.7999999999999545" height="3.1999999999999886" fill="#222"/>
<rect x="596.3" y="273.7" width="4.0" height="57.900000000000034" fill="#111111"/>
<rect x="602" y="277.1" width="4" height="54.5" fill="#ec1c24"/>
<rect x="607.7" y="272.9" width="4.0" height="58.700000000000045" fill="#2b3190"/>
<rect x="606.1" y="328.40000000000003" width="1.5" height="3.1999999999999886" fill="#222"/>
<rect x="632" y="275.1" width="4" height="56.5" fill="#111111"/>
<rect x="643.4" y="276.3" width="4.300000000000068" height="55.30000000000001" fill="#2b3190"/>
<line x1="485.5" y1="298.8" x2="487.7" y2="298.8" stroke="#111" stroke-width="1.1"/>
<line x1="485.5" y1="266.2" x2="488.7" y2="266.2" stroke="#111" stroke-width="1.1"/>
<line x1="485.5" y1="233.6" x2="487.7" y2="233.6" stroke="#111" stroke-width="1.1"/>
<rect x="641.8" y="328.40000000000003" width="1.5" height="3.1999999999999886" fill="#222"/>
<text x="471.73" y="206.85" font-size="11.60" font-family="Liberation Sans" font-weight="bold" stroke="#111" stroke-width="0.22" fill="#111" textLength="6.33" lengthAdjust="spacingAndGlyphs">4</text>
<text x="471.46" y="269.55" font-size="11.46" font-family="Liberation Sans" font-weight="bold" stroke="#111" stroke-width="0.22" fill="#111" textLength="7.05" lengthAdjust="spacingAndGlyphs">2</text>
<text x="471.38" y="335.15" font-size="11.17" font-family="Liberation Sans" font-weight="bold" stroke="#111" stroke-width="0.22" fill="#111" textLength="7.37" lengthAdjust="spacingAndGlyphs">0</text>
<text x="496.61" y="343.35" font-size="11.17" font-family="Liberation Sans" font-weight="bold" stroke="#111" stroke-width="0.22" fill="#111" textLength="8.62" lengthAdjust="spacingAndGlyphs">C</text>
<text x="530.89" y="343.35" font-size="11.17" font-family="Liberation Sans" font-weight="bold" stroke="#111" stroke-width="0.22" fill="#111" textLength="9.63" lengthAdjust="spacingAndGlyphs">O</text>
<text x="567.79" y="343.35" font-size="11.34" font-family="Liberation Sans" font-weight="bold" stroke="#111" stroke-width="0.22" fill="#111" textLength="8.72" lengthAdjust="spacingAndGlyphs">N</text>
<text x="603.46" y="343.35" font-size="11.34" font-family="Liberation Sans" font-weight="bold" stroke="#111" stroke-width="0.22" fill="#111" textLength="8.37" lengthAdjust="spacingAndGlyphs">P</text>
<text x="636.31" y="343.35" font-size="11.34" font-family="Liberation Sans" font-weight="bold" stroke="#111" stroke-width="0.22" fill="#111" textLength="15.01" lengthAdjust="spacingAndGlyphs">Na</text>
<text x="544.66" y="360.65" font-size="12.79" font-family="Liberation Sans" font-weight="bold" stroke="#111" stroke-width="0.22" fill="#111" textLength="49.10" lengthAdjust="spacingAndGlyphs">Element</text>
<text x="-0.82" y="0" font-size="12.65" font-family="Liberation Sans" font-weight="bold" stroke="#111" stroke-width="0.22" fill="#111" textLength="37.93" lengthAdjust="spacingAndGlyphs" transform="translate(460.45,284.10) rotate(-90)">FWHM</text>
<rect x="550" y="205.8" width="13.100000000000023" height="4.199999999999989" fill="#111111"/>
<text x="567.55" y="211.05" font-size="9.88" font-family="Liberation Sans" font-weight="bold" stroke="#111" stroke-width="0.22" fill="#111" textLength="20.90" lengthAdjust="spacingAndGlyphs">DNA</text>
<rect x="550" y="215.9" width="13.100000000000023" height="4.199999999999989" fill="#ec1c24"/>
<text x="567.56" y="221.10" font-size="9.88" font-family="Liberation Sans" font-weight="bold" stroke="#111" stroke-width="0.22" fill="#111" textLength="51.19" lengthAdjust="spacingAndGlyphs">DNA-CTMA</text>
<rect x="550" y="226.5" width="13.100000000000023" height="4.199999999999989" fill="#2b3190"/>
<text x="567.56" y="231.25" font-size="9.88" font-family="Liberation Sans" font-weight="bold" stroke="#111" stroke-width="0.22" fill="#111" textLength="86.49" lengthAdjust="spacingAndGlyphs">DNA + MWCNT-OH</text>
<rect x="583.2" y="237.0" width="13.599999999999909" height="4.199999999999989" fill="#0e7a85"/>
<text x="600.46" y="241.85" font-size="9.59" font-family="Liberation Sans" font-weight="bold" stroke="#111" stroke-width="0.22" fill="#111" textLength="54.29" lengthAdjust="spacingAndGlyphs">MWCNT-OH</text>
</svg></body></html>
